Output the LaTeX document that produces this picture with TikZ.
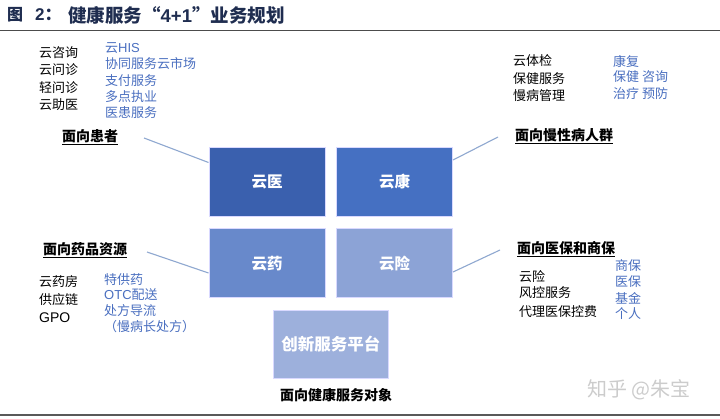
\documentclass[tikz,border=0pt]{standalone}
\usepackage{fontspec}
\setmainfont{Liberation Sans}
\newfontfamily\cjk{Noto Sans CJK SC}
\definecolor{tblue}{HTML}{4A6FC0}
\definecolor{ttl}{HTML}{1F2D50}
\definecolor{cyi}{HTML}{3A60AE}
\definecolor{ckang}{HTML}{4570C2}
\definecolor{cyao}{HTML}{6889CB}
\definecolor{cxian}{HTML}{8CA3D6}
\definecolor{cplat}{HTML}{9DB0DC}
\definecolor{conn}{HTML}{8FA8D0}
\begin{document}
\begin{tikzpicture}[x=1pt,y=-1pt,
  blk/.style={anchor=west,inner sep=0,font=\cjk\fontsize{13}{13}\selectfont,text=black},
  blu/.style={blk,text=tblue},
  lbl/.style={anchor=west,inner sep=0,font=\cjk\bfseries\fontsize{14}{14}\selectfont,text=black},
  bx/.style={minimum width=116,minimum height=69,inner sep=0,text=white,draw=white!85!blue,line width=0.4,font=\cjk\bfseries\fontsize{15.5}{15.5}\selectfont},
  connline/.style={draw=conn,line width=1.1}]
\useasboundingbox (0,0) rectangle (720,419);
\fill[white] (0,0) rectangle (720,419);
% title
\node[anchor=west,inner sep=0,font=\cjk\bfseries\fontsize{16}{16}\selectfont,text=ttl] (tfig) at (7,15) {图};
\node[anchor=west,inner sep=0,font=\bfseries\fontsize{17}{17}\selectfont,text=ttl] (tnum) at (35,15) {2{\cjk ：}};
\node[anchor=west,inner sep=0,font=\cjk\bfseries\fontsize{18.5}{18.5}\selectfont,text=ttl] (ttext) at (68,15) {健康服务“{\rmfamily\bfseries 4+1}”业务规划};
\coordinate (tl0) at (0,30.5); \coordinate (tl1) at (720,30.5);
\draw[line width=1.3,draw=black!70] (tl0) -- (tl1);
\coordinate (bl0) at (0,415); \coordinate (bl1) at (720,415);
\draw[line width=1.3,draw=black!65] (bl0) -- (bl1);
% boxes
\node[bx,fill=cyi] (yi) at (267.2,181.7) {云医};
\node[bx,fill=ckang] (kang) at (394.5,181.7) {云康};
\node[bx,fill=cyao] (yao) at (267.2,263.2) {云药};
\node[bx,fill=cxian] (xian) at (394.5,263.2) {云险};
\node[bx,fill=cplat,minimum width=115,minimum height=68,font=\cjk\bfseries\fontsize{16.5}{16.5}\selectfont] (plat) at (330.8,344.5) {创新服务平台};
% top-left
\node[blk] (a1) at (39,53) {云咨询};
\node[blk] (a2) at (39,70) {云问诊};
\node[blk] (a3) at (39,87.5) {轻问诊};
\node[blk] (a4) at (39,105) {云助医};
\node[blu] (b1) at (105,48.5) {云{\rmfamily HIS}};
\node[blu] (b2) at (105,64) {协同服务云市场};
\node[blu] (b3) at (105,80.5) {支付服务};
\node[blu] (b4) at (105,96.5) {多点执业};
\node[blu] (b5) at (105,113) {医患服务};
\node[lbl] (la) at (62,137) {\underline{面向患者}};
% top-right
\node[blk] (c1) at (513,61) {云体检};
\node[blk] (c2) at (513,78.5) {保健服务};
\node[blk] (c3) at (513,96) {慢病管理};
\node[blu] (d1) at (613,61.5) {康复};
\node[blu] (d2) at (613,77) {保健 咨询};
\node[blu] (d3) at (613,93.5) {治疗 预防};
\node[lbl] (lb) at (515,136) {\underline{面向慢性病人群}};
% bottom-left
\node[lbl] (lc) at (43,250) {\underline{面向药品资源}};
\node[blk] (e1) at (39,282) {云药房};
\node[blk] (e2) at (39,299.5) {供应链};
\node[blk,font=\fontsize{14}{14}\selectfont] (e3) at (39,317.5) {GPO};
\node[blu] (f1) at (104,279.5) {特供药};
\node[blu] (f2) at (104,295) {{\rmfamily OTC}配送};
\node[blu] (f3) at (104,310.5) {处方导流};
\node[blu] (f4) at (104,327) {（慢病长处方）};
% bottom-right
\node[lbl] (ld) at (517,249.5) {\underline{面向医保和商保}};
\node[blk] (g1) at (519,277) {云险};
\node[blk] (g2) at (519,293) {风控服务};
\node[blk] (g3) at (519,312) {代理医保控费};
\node[blu] (h1) at (615,266) {商保};
\node[blu] (h2) at (615,282) {医保};
\node[blu] (h3) at (615,298.5) {基金};
\node[blu] (h4) at (615,313.5) {个人};
% bottom label and watermark
\node[lbl] (le) at (280,395) {面向健康服务对象};
\node[anchor=west,inner sep=0,font=\cjk\fontsize{20}{20}\selectfont,text=black!20] (wm) at (587,390) {知乎 @朱宝};
% connectors
\coordinate (p1a) at (144,138); \coordinate (p1b) at (208.5,162.5);
\coordinate (p2a) at (498,137); \coordinate (p2b) at (453,160);
\coordinate (p3a) at (147,252); \coordinate (p3b) at (208.5,273);
\coordinate (p4a) at (500,250); \coordinate (p4b) at (453,272);
\draw[connline] (p1a) -- (p1b);
\draw[connline] (p2a) -- (p2b);
\draw[connline] (p3a) -- (p3b);
\draw[connline] (p4a) -- (p4b);
\end{tikzpicture}
\end{document}
